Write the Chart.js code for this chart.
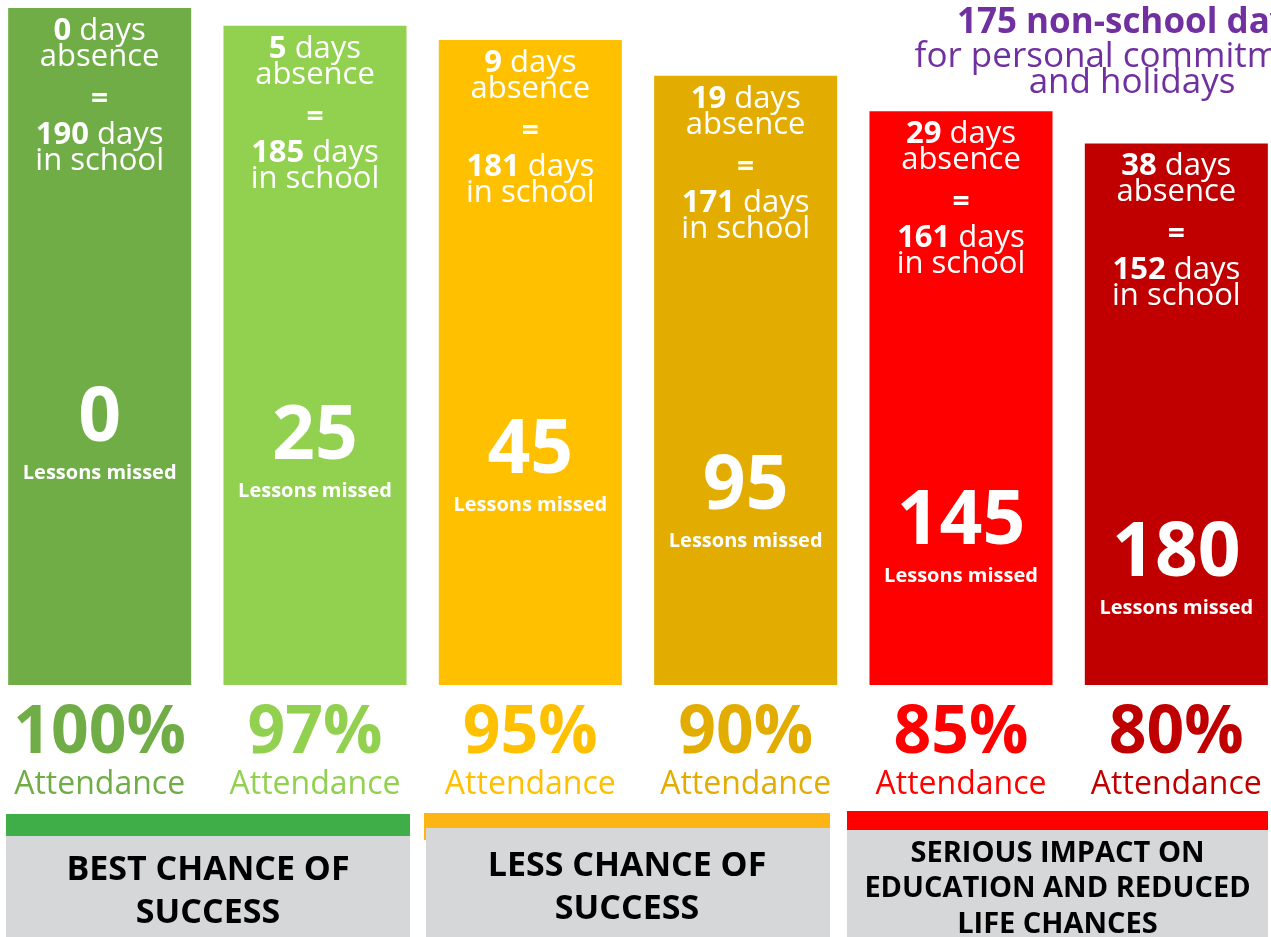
<!DOCTYPE html>
<html>
<head>
<meta charset="utf-8">
<script src="https://cdn.jsdelivr.net/npm/chart.js@4.4.1/dist/chart.umd.min.js"></script>
<style>
  html, body { margin: 0; padding: 0; background: #fff; overflow: hidden; }
  #wrap { position: absolute; left: -8px; top: 0; width: 1300px; height: 937px; }
</style>
</head>
<body>
<div id="wrap"><canvas id="attendanceChart" width="1300" height="937"></canvas></div>
<script>
// data
const attendance = [100, 97, 95, 90, 85, 80];
const daysAbsent = [0, 5, 9, 19, 29, 38];
const daysInSchool = [190, 185, 181, 171, 161, 152];
const lessonsMissed = [0, 25, 45, 95, 145, 180];
const barColors = ['#70ad47', '#92d050', '#ffc000', '#e3ac00', '#ff0000', '#c00000'];

const groupLabels = [
    ['BEST CHANCE OF', 'SUCCESS'],
    ['LESS CHANCE OF', 'SUCCESS'],
    ['SERIOUS IMPACT ON', 'EDUCATION AND REDUCED', 'LIFE CHANCES']
];
const groupColors = ['#3fae49', '#fdb515', '#ff0000'];
const titleLines = ['175 non-school days', 'for personal commitments', 'and holidays'];

const FONT = '"Open Sans", sans-serif';
const SHIFT = 8; // canvas starts 8px left of the page

// bottom bands, page coords
const bands = [
    { left: 6, right: 410, stripTop: 814, greyTop: 836, greyLeft: 6, baselines: [880, 923], size: 34 },
    { left: 424, right: 830, stripTop: 813, greyTop: 828, greyLeft: 426, baselines: [876, 919], size: 34 },
    { left: 847, right: 1268, stripTop: 811, greyTop: 830, greyLeft: 847, baselines: [862, 897, 933], size: 29 }
];

// draws "bold part" + "regular part" centred on x
const mixedLine = (ctx, x, y, boldTxt, regTxt, size) => {
    ctx.font = `bold ${size}px ${FONT}`;
    const wb = ctx.measureText(boldTxt + ' ').width;
    ctx.font = `${size}px ${FONT}`;
    const wr = ctx.measureText(regTxt).width;
    let start = x - (wb + wr) / 2;
    ctx.textAlign = 'left';
    ctx.font = `bold ${size}px ${FONT}`;
    ctx.fillText(boldTxt + ' ', start, y);
    ctx.font = `${size}px ${FONT}`;
    ctx.fillText(regTxt, start + wb, y);
};

const labelsPlugin = {
    id: 'labelsPlugin',
    afterDatasetsDraw(chart) {
        const ctx = chart.ctx;
        const meta = chart.getDatasetMeta(0);
        ctx.save();
        ctx.textBaseline = 'alphabetic';

        meta.data.forEach((bar, i) => {
            const x = bar.x;
            const top = bar.y;
            ctx.fillStyle = '#ffffff';

            mixedLine(ctx, x, top + 32, String(daysAbsent[i]), 'days', 31);
            ctx.textAlign = 'center';
            ctx.font = `31px ${FONT}`;
            ctx.fillText('absence', x, top + 58);
            ctx.font = `bold 30px ${FONT}`;
            ctx.fillText('=', x, top + 100);
            mixedLine(ctx, x, top + 136, String(daysInSchool[i]), 'days', 31);
            ctx.textAlign = 'center';
            ctx.font = `31px ${FONT}`;
            ctx.fillText('in school', x, top + 162);

            ctx.font = `bold 75px ${FONT}`;
            ctx.fillText(String(lessonsMissed[i]), x, top + 433);
            ctx.font = `bold 20px ${FONT}`;
            ctx.fillText('Lessons missed', x, top + 471);

            // attendance below the bars
            ctx.fillStyle = barColors[i];
            ctx.font = `bold 66px ${FONT}`;
            ctx.fillText(attendance[i] + '%', x, 753);
            ctx.font = `32px ${FONT}`;
            ctx.fillText('Attendance', x, 794);
        });

        // bands
        bands.forEach((b, g) => {
            ctx.fillStyle = groupColors[g];
            ctx.fillRect(b.left + SHIFT, b.stripTop, b.right - b.left, b.greyTop - b.stripTop + (g === 1 ? 12 : 0));
            ctx.fillStyle = '#d6d7d9';
            ctx.fillRect(b.greyLeft + SHIFT, b.greyTop, b.right - b.greyLeft, 937 - b.greyTop);
            ctx.fillStyle = '#000000';
            ctx.textAlign = 'center';
            ctx.font = `bold ${b.size}px ${FONT}`;
            const cx = (b.left + b.right) / 2 + SHIFT;
            groupLabels[g].forEach((line, k) => ctx.fillText(line, cx, b.baselines[k]));
        });

        // purple note top right
        ctx.fillStyle = '#7030a0';
        ctx.textAlign = 'center';
        const tx = 1132 + SHIFT;
        ctx.font = `bold 35px ${FONT}`;
        ctx.fillText(titleLines[0], tx, 33);
        ctx.font = `35px ${FONT}`;
        ctx.fillText(titleLines[1], tx, 67);
        ctx.fillText(titleLines[2], tx, 93);

        ctx.restore();
    }
};

document.addEventListener('DOMContentLoaded', () => {
    const ctx = document.getElementById('attendanceChart').getContext('2d');
    new Chart(ctx, {
        type: 'bar',
        data: {
            labels: attendance.map(a => a + '%'),
            datasets: [{
                label: 'Days in school',
                data: daysInSchool,
                backgroundColor: barColors,
                borderWidth: 0,
                barPercentage: 0.85,
                categoryPercentage: 1
            }]
        },
        options: {
            responsive: false,
            devicePixelRatio: 1,
            animation: false,
            layout: {
                padding: { top: 8, bottom: 252, left: 0, right: 8 }
            },
            scales: {
                x: { display: false },
                y: { display: false, min: 0, max: 190 }
            },
            plugins: {
                legend: { display: false },
                tooltip: { enabled: false }
            }
        },
        plugins: [labelsPlugin]
    });
});
</script>
</body>
</html>
